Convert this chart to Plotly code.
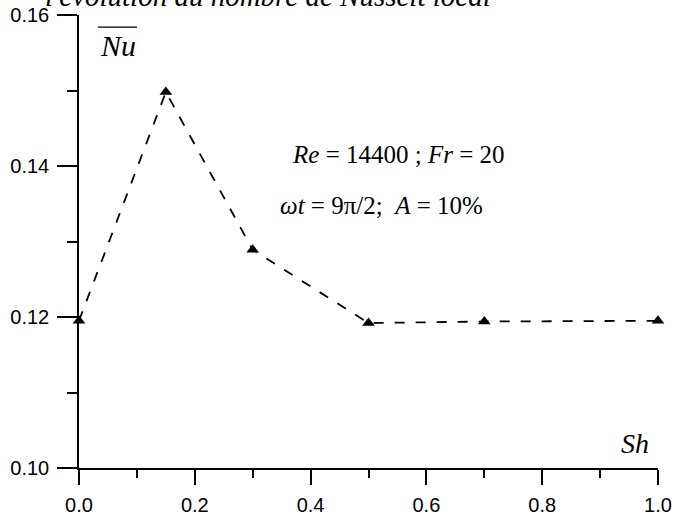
import plotly.graph_objects as go

sh = [0.0, 0.15, 0.3, 0.5, 0.7, 1.0]
nu = [0.1195, 0.1498, 0.1289, 0.1192, 0.1194, 0.1195]

x_ticks = [0.0, 0.2, 0.4, 0.6, 0.8, 1.0]
x_labels = ["0.0", "0.2", "0.4", "0.6", "0.8", "1.0"]
y_ticks = [0.10, 0.12, 0.14, 0.16]
y_labels = ["0.10", "0.12", "0.14", "0.16"]

serif = "Liberation Serif"
sans = "Liberation Sans"

fig = go.Figure()
fig.add_trace(go.Scatter(
    x=sh, y=nu, mode="lines+markers",
    line=dict(color="black", width=1.8, dash="10px,11px"),
    marker=dict(symbol="triangle-up", size=11, color="black"),
    cliponaxis=False, showlegend=False,
))

axis_common = dict(
    showline=True, linecolor="black", linewidth=1.5,
    ticks="outside", tickwidth=1.5, tickcolor="black",
    showgrid=False, zeroline=False, automargin=False,
    tickfont=dict(family=sans, size=20, color="black"),
)

fig.update_xaxes(
    range=[0, 1.0], tickvals=x_ticks, ticktext=x_labels, ticklen=15,
    ticklabelstandoff=3,
    minor=dict(ticks="outside", ticklen=8, tickwidth=1.5, tickcolor="black",
               dtick=0.1, tick0=0, showgrid=False),
    **axis_common,
)
fig.update_yaxes(
    range=[0.10, 0.16], tickvals=y_ticks, ticktext=y_labels, ticklen=20,
    ticklabelstandoff=4,
    minor=dict(ticks="outside", ticklen=10, tickwidth=1.5, tickcolor="black",
               dtick=0.01, tick0=0.10, showgrid=False),
    **axis_common,
)

annots = [
    dict(x=0.364, y=0.1415, text="<i>Re</i> = 14400 ; <i>Fr</i> = 20", size=25),
    dict(x=0.344, y=0.1348, text="<i>ωt</i> = 9π/2;\u00a0\u00a0<i>A</i> = 10%", size=25),
    dict(x=0.0328, y=0.1559, text="<i>Nu</i>", size=30),
    dict(x=0.9326, y=0.1032, text="<i>Sh</i>", size=28),
]
for a in annots:
    fig.add_annotation(x=a["x"], y=a["y"], xref="x", yref="y", text=a["text"],
                       showarrow=False, xanchor="left", yanchor="middle",
                       font=dict(family=serif, size=a["size"], color="black"))

# overline over Nu
fig.add_shape(type="line", xref="x", yref="y", x0=0.0328, x1=0.1002,
              y0=0.1584, y1=0.1584, line=dict(color="black", width=1.2))

fig.add_annotation(x=-0.062, y=1.0, xref="paper", yref="paper",
                   text="<i>l'évolution du nombre de Nusselt local</i>",
                   showarrow=False, xanchor="left", yanchor="bottom", yshift=1,
                   font=dict(family=serif, size=29, color="black"))

fig.update_layout(
    width=679, height=516,
    margin=dict(l=79, r=21, t=15, b=48),
    plot_bgcolor="white", paper_bgcolor="white",
)
fig.write_html("out.html")
